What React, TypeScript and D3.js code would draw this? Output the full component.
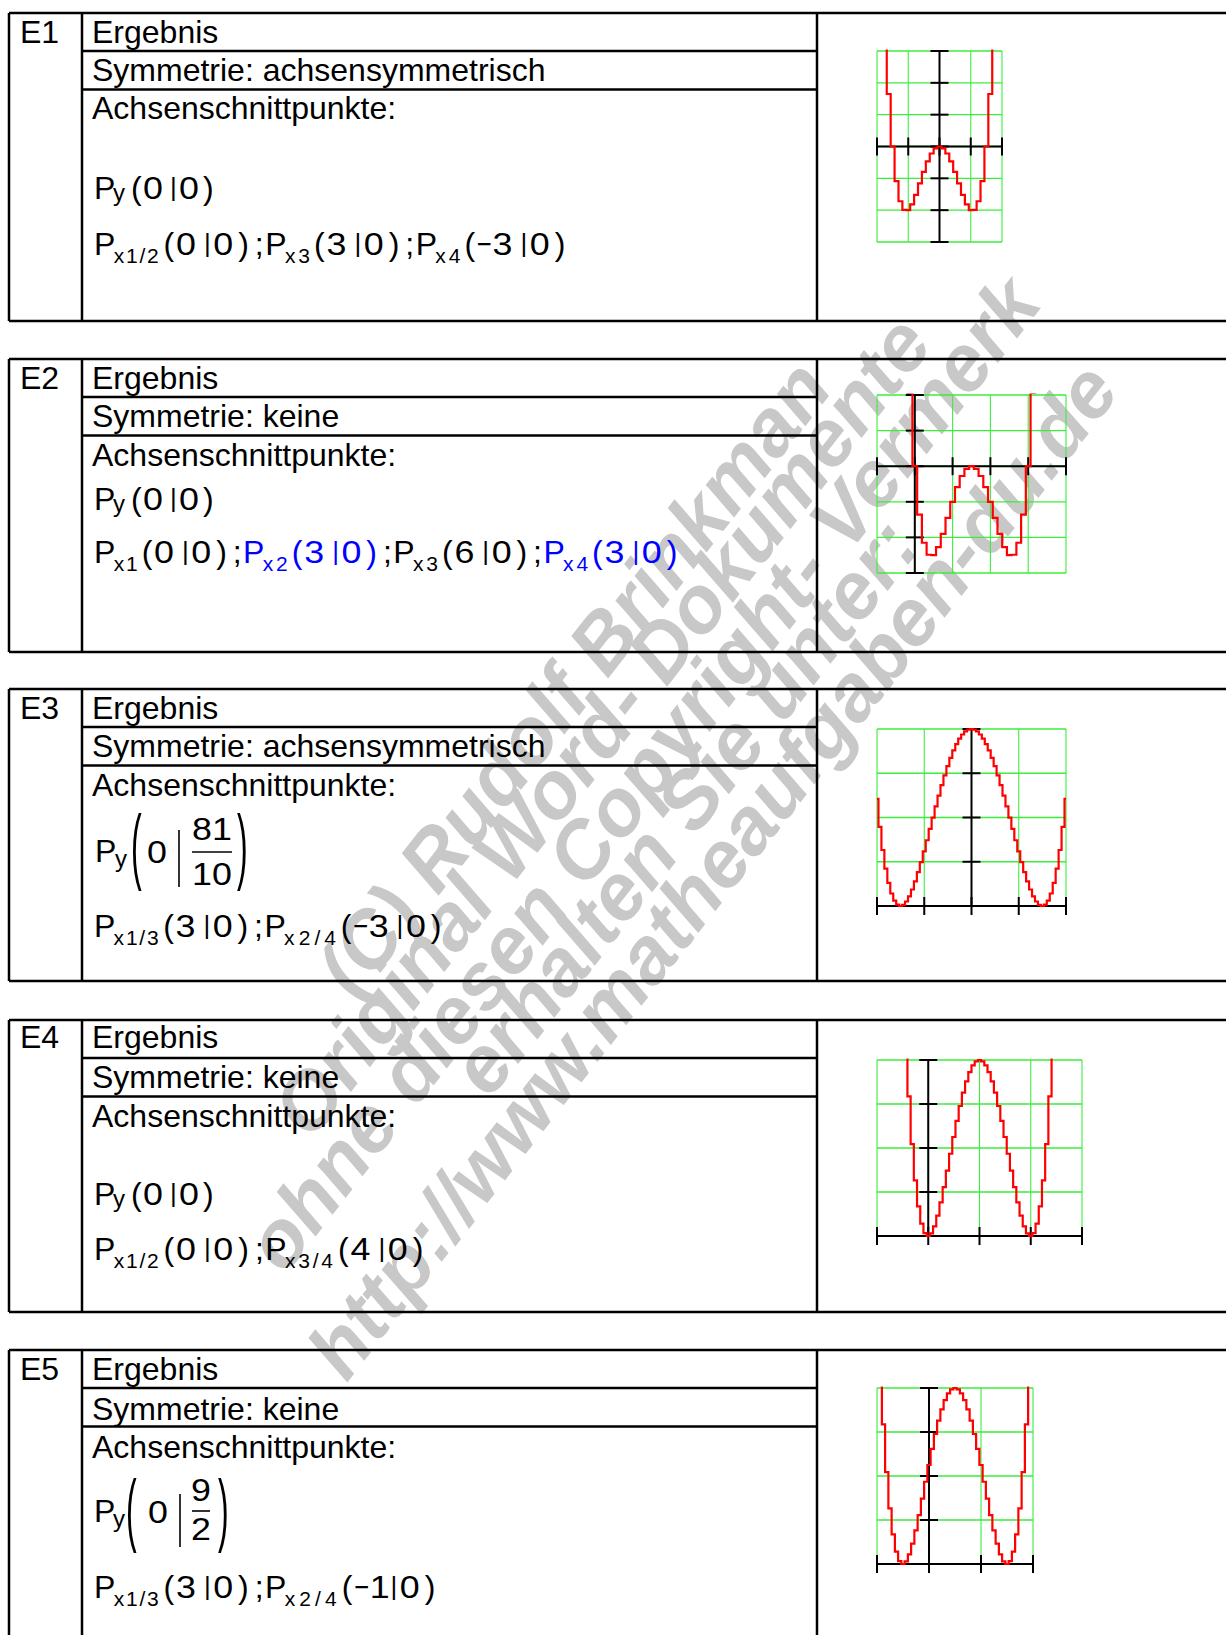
import React from "react";
import * as d3 from "d3";

const FONT = "'Liberation Sans', Arial, Helvetica, sans-serif";
const GRID = "#3ded3d";

// ---------- table text ----------
const blockLabels = ["E1", "E2", "E3", "E4", "E5"];
const symmetryLabels = ["achsensymmetrisch", "keine", "achsensymmetrisch", "keine", "keine"];

type Pt = { sub: string; a: string; b: string; blue?: boolean };
type Frac = { a: string; num: string; den: string };

const e1Py: Pt[] = [{ sub: "y", a: "0", b: "0" }];
const e1Px: Pt[] = [
  { sub: "x1/2", a: "0", b: "0" },
  { sub: "x3", a: "3", b: "0" },
  { sub: "x4", a: "−3", b: "0" },
];
const e2Py: Pt[] = [{ sub: "y", a: "0", b: "0" }];
const e2Px: Pt[] = [
  { sub: "x1", a: "0", b: "0" },
  { sub: "x2", a: "3", b: "0", blue: true },
  { sub: "x3", a: "6", b: "0" },
  { sub: "x4", a: "3", b: "0", blue: true },
];
const e3Py: Frac = { a: "0", num: "81", den: "10" };
const e3Px: Pt[] = [
  { sub: "x1/3", a: "3", b: "0" },
  { sub: "x2/4", a: "−3", b: "0" },
];
const e4Py: Pt[] = [{ sub: "y", a: "0", b: "0" }];
const e4Px: Pt[] = [
  { sub: "x1/2", a: "0", b: "0" },
  { sub: "x3/4", a: "4", b: "0" },
];
const e5Py: Frac = { a: "0", num: "9", den: "2" };
const e5Px: Pt[] = [
  { sub: "x1/3", a: "3", b: "0" },
  { sub: "x2/4", a: "−1", b: "0" },
];

const watermarkLines = [
  "(C) Rudolf Brinkman",
  "Original Word- Dokumente",
  "ohne diesen Copyright- Vermerk",
  "erhalten Sie unter:",
  "http://www.matheaufgaben-du.de",
];

// ---------- plot data (sampled curves) ----------
const e1XDomain = [-4, 4];
const e1YDomain = [-30, 30];
const e1XTicks = [-4, -2, 0, 2, 4];
const e1YTicks = [-30, -20, -10, 0, 10, 20, 30];
const e1Start = -3.5;
const e1Step = 0.25;
const e1Values = [
  39.8, 16.5, 0, -10.9, -17.2, -19.9, -20, -18.2, -15.2, -11.6, -8, -4.7, -2.2, -0.6, 0,
  -0.6, -2.2, -4.7, -8, -11.6, -15.2, -18.2, -20, -19.9, -17.2, -10.9, 0, 16.5, 39.8,
];

const e2XDomain = [-2, 8];
const e2YDomain = [-24, 16];
const e2XTicks = [-2, 0, 2, 4, 6, 8];
const e2YTicks = [-24, -16, -8, 0, 8, 16];
const e2Start = -0.5;
const e2Step = 0.25;
const e2Values = [
  39.8, 16.5, 0, -10.9, -17.2, -19.9, -20, -18.2, -15.2, -11.6, -8, -4.7, -2.2, -0.6, 0,
  -0.6, -2.2, -4.7, -8, -11.6, -15.2, -18.2, -20, -19.9, -17.2, -10.9, 0, 16.5, 39.8,
];

const e3XDomain = [-4, 4];
const e3YDomain = [0, 8.1];
const e3XTicks = [-4, -2, 0, 2, 4];
const e3YTicks = [0, 2.025, 4.05, 6.075, 8.1];
const e3Start = -4;
const e3Step = 0.125;
const e3Values = [
  4.9, 3.619, 2.563, 1.714, 1.056, 0.572, 0.244, 0.059, 0, 0.054, 0.207, 0.445, 0.756, 1.129,
  1.55, 2.011, 2.5, 3.008, 3.525, 4.044, 4.556, 5.054, 5.532, 5.982, 6.4, 6.781, 7.119, 7.412,
  7.656, 7.849, 7.988, 8.072, 8.1, 8.072, 7.988, 7.849, 7.656, 7.412, 7.119, 6.781, 6.4, 5.982,
  5.532, 5.054, 4.556, 4.044, 3.525, 3.008, 2.5, 2.011, 1.55, 1.129, 0.756, 0.445, 0.207, 0.054,
  0, 0.059, 0.244, 0.572, 1.056, 1.714, 2.563, 3.619, 4.9,
];

const e4XDomain = [-2, 6];
const e4YDomain = [0, 16];
const e4XTicks = [-2, 0, 2, 4, 6];
const e4YTicks = [0, 4, 8, 12, 16];
const e4Start = -1;
const e4Step = 0.125;
const e4Values = [
  25, 18.196, 12.691, 8.356, 5.063, 2.692, 1.129, 0.266, 0, 0.235, 0.879, 1.848, 3.063, 4.449,
  5.941, 7.477, 9, 10.461, 11.816, 13.028, 14.063, 14.895, 15.504, 15.875, 16, 15.875, 15.504,
  14.895, 14.063, 13.028, 11.816, 10.461, 9, 7.477, 5.941, 4.449, 3.063, 1.848, 0.879, 0.235, 0,
  0.266, 1.129, 2.692, 5.063, 8.356, 12.691, 18.196, 25,
];

const e5XDomain = [-2, 4];
const e5YDomain = [0, 8];
const e5XTicks = [-2, 0, 2, 4];
const e5YTicks = [0, 2, 4, 6, 8];
const e5Start = -2;
const e5Step = 0.125;
const e5Values = [
  12.5, 9.098, 6.346, 4.178, 2.531, 1.346, 0.564, 0.133, 0, 0.118, 0.439, 0.924, 1.531, 2.225,
  2.971, 3.739, 4.5, 5.231, 5.908, 6.514, 7.031, 7.448, 7.752, 7.938, 8, 7.938, 7.752, 7.448,
  7.031, 6.514, 5.908, 5.231, 4.5, 3.739, 2.971, 2.225, 1.531, 0.924, 0.439, 0.118, 0, 0.133,
  0.564, 1.346, 2.531, 4.178, 6.346, 9.098, 12.5,
];

// ---------- layout ----------
const blockTops = [13, 359, 689, 1020, 1350];
const blockBottoms = [321, 652, 981, 1312, 1660];
const rowY = [
  { erg: 43, sym: 81, ach: 119, py: 199, px: 255 },
  { erg: 389, sym: 427, ach: 466, py: 510, px: 563 },
  { erg: 719, sym: 757, ach: 796, py: 862, px: 937 },
  { erg: 1048, sym: 1088, ach: 1127, py: 1205, px: 1260 },
  { erg: 1380, sym: 1420, ach: 1458, py: 1522, px: 1598 },
];
const pxEnds = [564, 676, 440, 422, 434];
const plotBoxes = [
  { x0: 877, x1: 1002, y0: 51, y1: 242 },
  { x0: 877, x1: 1066, y0: 395, y1: 573 },
  { x0: 877, x1: 1066, y0: 729, y1: 906 },
  { x0: 877, x1: 1082, y0: 1060, y1: 1236 },
  { x0: 877, x1: 1033, y0: 1388, y1: 1564 },
];
const watermarkCenters = [
  [573, 678],
  [601, 726],
  [642, 773],
  [684, 806],
  [712, 870],
];

const SUB_W: Record<string, number> = {
  "x1/2": 45, "x1/3": 45, "x2/4": 52, "x3/4": 48, x1: 24, x2: 25, x3: 25, x4: 25, y: 12,
};
const charW = (c: string) => (c === "−" ? 15 : c === "1" ? 12 : 19);
const DIGIT_SX = 1.12;

type Item = { t: string; x: number; kind: string; color: string; w?: number; low?: boolean };

function PointLine({ points, x0, yb, end }: { points: Pt[]; x0: number; yb: number; end?: number }) {
  const items: Item[] = [];
  let c = 0;
  let last = 0;
  points.forEach((p, i) => {
    const color = p.blue ? "#0000ff" : "#000";
    if (i > 0) items.push({ t: ";", x: c - 10, kind: "semi", color: "#000" });
    items.push({ t: "P", x: c, kind: "P", color });
    const sw = SUB_W[p.sub] ?? 22;
    items.push({ t: p.sub, x: c + 19, kind: "sub", color, w: sw, low: p.sub !== "y" });
    const pp = c + 19 + sw + (p.sub === "y" ? 6 : 3);
    items.push({ t: "(", x: pp, kind: "paren", color });
    let vx = pp + 12;
    for (const ch of p.a) {
      items.push({ t: ch, x: vx, kind: "val", color });
      vx += charW(ch);
    }
    const bb = vx + 8;
    items.push({ t: "|", x: bb, kind: "bar", color });
    vx = bb + 9;
    for (const ch of p.b) {
      items.push({ t: ch, x: vx, kind: "val", color });
      vx += charW(ch);
    }
    const cp = vx + 5;
    items.push({ t: ")", x: cp, kind: "paren", color });
    last = cp + 9;
    c = cp + 26;
  });
  const k = end ? (end - x0) / last : 1;
  return (
    <g fontFamily={FONT}>
      {items.map((it, i) => {
        const x = x0 + it.x * k;
        if (it.kind === "sub") {
          if (!it.low) {
            return (
              <text key={i} x={x} y={yb + 2} fontSize={24} fill={it.color}>
                {it.t}
              </text>
            );
          }
          return (
            <text key={i} x={x} y={yb + 8} fontSize={21} fill={it.color} textLength={it.w} lengthAdjust="spacing">
              {it.t}
            </text>
          );
        }
        if (it.kind === "val") {
          const sx = it.t === "−" ? 0.8 : DIGIT_SX;
          return (
            <text key={i} transform={`translate(${x},${yb}) scale(${sx},1)`} fontSize={32} fill={it.color}>
              {it.t}
            </text>
          );
        }
        if (it.kind === "bar") {
          return (
            <text key={i} x={x} y={yb - 3} fontSize={26} fill={it.color}>
              {it.t}
            </text>
          );
        }
        return (
          <text key={i} x={x} y={yb} fontSize={32} fill={it.color}>
            {it.t}
          </text>
        );
      })}
    </g>
  );
}

function BigParen({ ch, x, top, bottom }: { ch: string; x: number; top: number; bottom: number }) {
  const sy = (bottom - top) / 30.1;
  const base = (top + bottom) / 2 + 8.25 * sy;
  return (
    <text transform={`translate(${x},${base}) scale(1,${sy})`} fontSize={32}>
      {ch}
    </text>
  );
}

function FracLine({ f, x0, yb, big }: { f: Frac; x0: number; yb: number; big: boolean }) {
  // glyph offsets relative to the P glyph
  const g = big
    ? { sub: 20, open: 36, top: -49, bot: 30, zero: 52, bar: 84, barT: -32, barB: 25, cx: 117, half: 20, num: -22, line: -10, den: 23, close: 142 }
    : { sub: 19, open: 32, top: -44, bot: 31, zero: 54, bar: 86, barT: -28, barB: 25, cx: 107, half: 9, num: -21, line: -11, den: 18, close: 124 };
  return (
    <g fontFamily={FONT}>
      <text x={x0} y={yb} fontSize={32}>P</text>
      <text x={x0 + g.sub} y={yb + 5} fontSize={24}>y</text>
      <BigParen ch="(" x={x0 + g.open} top={yb + g.top} bottom={yb + g.bot} />
      <text transform={`translate(${x0 + g.zero},${yb + 1}) scale(${DIGIT_SX},1)`} fontSize={32}>{f.a}</text>
      <line x1={x0 + g.bar} x2={x0 + g.bar} y1={yb + g.barT} y2={yb + g.barB} stroke="#000" strokeWidth={1.6} />
      <text transform={`translate(${x0 + g.cx},${yb + g.num}) scale(${DIGIT_SX},1)`} fontSize={32} textAnchor="middle">{f.num}</text>
      <line x1={x0 + g.cx - g.half} x2={x0 + g.cx + g.half} y1={yb + g.line} y2={yb + g.line} stroke="#000" strokeWidth={1.6} />
      <text transform={`translate(${x0 + g.cx},${yb + g.den}) scale(${DIGIT_SX},1)`} fontSize={32} textAnchor="middle">{f.den}</text>
      <BigParen ch=")" x={x0 + g.close} top={yb + g.top} bottom={yb + g.bot} />
    </g>
  );
}

type PlotProps = {
  id: string;
  box: { x0: number; x1: number; y0: number; y1: number };
  xDomain: number[];
  yDomain: number[];
  xTicks: number[];
  yTicks: number[];
  start: number;
  step: number;
  values: number[];
};

function Plot({ id, box, xDomain, yDomain, xTicks, yTicks, start, step, values }: PlotProps) {
  const x = d3.scaleLinear().domain(xDomain).range([box.x0, box.x1]);
  const y = d3.scaleLinear().domain(yDomain).range([box.y1, box.y0]);
  const pts: [number, number][] = values.map((v, i) => [start + i * step, v]);
  const line = d3
    .line<[number, number]>()
    .x((d) => x(d[0]))
    .y((d) => y(d[1]))
    .curve(d3.curveStep);
  const ax = x(0);
  const ay = y(0);
  return (
    <g>
      <clipPath id={id}>
        <rect x={box.x0 - 1} y={box.y0 - 1.5} width={box.x1 - box.x0 + 2} height={box.y1 - box.y0 + 3} />
      </clipPath>
      {xTicks.map((t) => (
        <line key={"gx" + t} x1={x(t)} x2={x(t)} y1={box.y0} y2={box.y1} stroke={GRID} strokeWidth={1.1} />
      ))}
      {yTicks.map((t) => (
        <line key={"gy" + t} x1={box.x0} x2={box.x1} y1={y(t)} y2={y(t)} stroke={GRID} strokeWidth={1.3} />
      ))}
      <line x1={ax} x2={ax} y1={box.y0} y2={box.y1} stroke="#000" strokeWidth={2} />
      <line x1={box.x0} x2={box.x1} y1={ay} y2={ay} stroke="#000" strokeWidth={2} />
      {xTicks.map((t) => (
        <line key={"tx" + t} x1={x(t)} x2={x(t)} y1={ay - 9} y2={ay + 9} stroke="#000" strokeWidth={2} />
      ))}
      {yTicks.map((t) => (
        <line key={"ty" + t} x1={ax - 9} x2={ax + 9} y1={y(t)} y2={y(t)} stroke="#000" strokeWidth={2} />
      ))}
      <path d={line(pts) ?? ""} fill="none" stroke="#ff0000" strokeWidth={2.2} clipPath={`url(#${id})`} />
    </g>
  );
}

const pyLines = [e1Py, e2Py, null, e4Py, null];
const pyFracs = [null, null, e3Py, null, e5Py];
const pxLines = [e1Px, e2Px, e3Px, e4Px, e5Px];
const plots = [
  { xDomain: e1XDomain, yDomain: e1YDomain, xTicks: e1XTicks, yTicks: e1YTicks, start: e1Start, step: e1Step, values: e1Values },
  { xDomain: e2XDomain, yDomain: e2YDomain, xTicks: e2XTicks, yTicks: e2YTicks, start: e2Start, step: e2Step, values: e2Values },
  { xDomain: e3XDomain, yDomain: e3YDomain, xTicks: e3XTicks, yTicks: e3YTicks, start: e3Start, step: e3Step, values: e3Values },
  { xDomain: e4XDomain, yDomain: e4YDomain, xTicks: e4XTicks, yTicks: e4YTicks, start: e4Start, step: e4Step, values: e4Values },
  { xDomain: e5XDomain, yDomain: e5YDomain, xTicks: e5XTicks, yTicks: e5YTicks, start: e5Start, step: e5Step, values: e5Values },
];

export default function App() {
  return (
    <svg
      width={1226}
      height={1635}
      style={{ position: "absolute", left: 0, top: 0, background: "#fff" }}
      fontFamily={FONT}
    >
      {/* watermark behind everything */}
      <g fill="#c8c8c8" fontSize={80} fontWeight="bold" fontStyle="italic" textAnchor="middle">
        {watermarkLines.map((s, i) => (
          <text
            key={i}
            transform={`translate(${watermarkCenters[i][0]},${watermarkCenters[i][1]}) rotate(-52)`}
            dy="0.35em"
          >
            {s}
          </text>
        ))}
      </g>

      {blockLabels.map((label, i) => {
        const T = blockTops[i];
        const B = blockBottoms[i];
        const r = rowY[i];
        return (
          <g key={label}>
            <g stroke="#000" strokeWidth={2.5}>
              <line x1={9} x2={1226} y1={T} y2={T} />
              <line x1={9} x2={1226} y1={B} y2={B} />
              <line x1={9} x2={9} y1={T} y2={B} />
              <line x1={82} x2={82} y1={T} y2={B} />
              <line x1={817} x2={817} y1={T} y2={B} />
              <line x1={82} x2={817} y1={T + 38} y2={T + 38} />
              <line x1={82} x2={817} y1={T + 76.5} y2={T + 76.5} />
            </g>
            <g fontSize={32} fill="#000">
              <text x={20} y={r.erg}>{label}</text>
              <text x={92} y={r.erg}>Ergebnis</text>
              <text x={92} y={r.sym}>Symmetrie: {symmetryLabels[i]}</text>
              <text x={92} y={r.ach}>Achsenschnittpunkte:</text>
            </g>
            {pyLines[i] && <PointLine points={pyLines[i] as Pt[]} x0={94} yb={r.py} />}
            {pyFracs[i] && <FracLine f={pyFracs[i] as Frac} x0={i === 2 ? 95 : 94} yb={r.py} big={i === 2} />}
            <PointLine points={pxLines[i]} x0={94} yb={r.px} end={pxEnds[i]} />
            <Plot id={"clip" + i} box={plotBoxes[i]} {...plots[i]} />
          </g>
        );
      })}
    </svg>
  );
}
